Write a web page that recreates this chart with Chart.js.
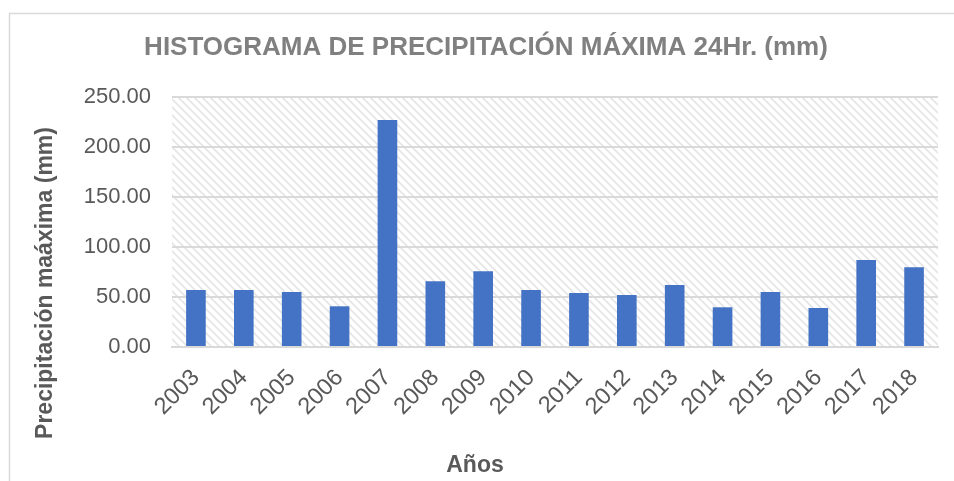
<!DOCTYPE html>
<html>
<head>
<meta charset="utf-8">
<script src="https://cdn.jsdelivr.net/npm/chart.js@4/dist/chart.umd.min.js"></script>
<style>
  html, body { margin: 0; padding: 0; background: #fff; }
  #wrap { width: 954px; height: 481px; position: relative; }
</style>
</head>
<body>
<div id="wrap"><canvas id="chart" width="954" height="481"></canvas></div>
<script>
const years = ["2003", "2004", "2005", "2006", "2007", "2008", "2009", "2010",
  "2011", "2012", "2013", "2014", "2015", "2016", "2017", "2018"];
const precipMax = [57, 57, 55, 40.7, 227, 65.7, 75.7, 57,
  54, 52, 62, 39.7, 55, 39, 87, 79.7];
const yTicks = [0, 50, 100, 150, 200, 250];

const chartTitle = "HISTOGRAMA DE PRECIPITACIÓN MÁXIMA 24Hr. (mm)";
const yTitle = "Precipitación maáxima (mm)";
const xTitle = "Años";

// diagonal hatch tile for the plot area
function makeHatch() {
  const tile = document.createElement("canvas");
  tile.width = 8;
  tile.height = 8;
  const tctx = tile.getContext("2d");
  const img = tctx.createImageData(8, 8);
  for (let y = 0; y < 8; y++) {
    for (let x = 0; x < 8; x++) {
      const d = ((x - y) % 8 + 8) % 8;
      const i = (y * 8 + x) * 4;
      let c = 255;
      if (d === 0 || d === 2) c = 236;
      else if (d === 1) c = 222;
      if (d <= 2 && (x + y) % 2 === 1) c += 8;
      img.data[i] = c; img.data[i + 1] = c; img.data[i + 2] = c; img.data[i + 3] = 255;
    }
  }
  tctx.putImageData(img, 0, 0);
  return tile;
}

const decorPlugin = {
  id: "decor",
  beforeDraw(chart) {
    const ctx = chart.ctx;
    const a = chart.chartArea;
    ctx.save();
    // outer frame (top and left edges are visible)
    ctx.strokeStyle = "#d9d9d9";
    ctx.lineWidth = 1.5;
    ctx.beginPath();
    ctx.moveTo(9.5, 490);
    ctx.lineTo(9.5, 13.5);
    ctx.lineTo(960, 13.5);
    ctx.stroke();
    ctx.fillStyle = ctx.createPattern(makeHatch(), "repeat");
    ctx.fillRect(a.left, a.top, a.right - a.left, a.bottom - a.top);
    ctx.restore();
  },
  afterDraw(chart) {
    const ctx = chart.ctx;
    ctx.save();
    ctx.textAlign = "center";
    ctx.textBaseline = "middle";
    ctx.fillStyle = "#808080";
    ctx.font = "bold 26px 'Liberation Sans', Arial, sans-serif";
    ctx.fillText(chartTitle, 486, 48);
    ctx.fillStyle = "#595959";
    ctx.font = "bold 23px 'Liberation Sans', Arial, sans-serif";
    ctx.fillText(xTitle, 475, 466);
    ctx.translate(46, 283);
    ctx.rotate(-Math.PI / 2);
    ctx.fillText(yTitle, 0, 0);
    ctx.restore();
  }
};

new Chart(document.getElementById("chart"), {
  type: "bar",
  data: {
    labels: years,
    datasets: [{
      label: "Precipitación máxima",
      data: precipMax,
      backgroundColor: "#4472C4",
      categoryPercentage: 1.0,
      barPercentage: 0.41
    }]
  },
  options: {
    responsive: false,
    animation: false,
    devicePixelRatio: 1,
    layout: { padding: { top: 97, right: 16, left: 0, bottom: 0 } },
    plugins: {
      legend: { display: false },
      tooltip: { enabled: false }
    },
    scales: {
      x: {
        grid: { display: false, drawTicks: false },
        border: { display: true, color: "#d9d9d9", width: 2 },
        ticks: {
          autoSkip: false,
          minRotation: 45,
          maxRotation: 45,
          padding: 17,
          color: "#595959",
          font: { family: "'Liberation Sans', Arial, sans-serif", size: 23.5 }
        },
        afterFit(scale) { scale.height = 134; }
      },
      y: {
        min: 0,
        max: 250,
        afterBuildTicks(scale) { scale.ticks = yTicks.map(v => ({ value: v })); },
        grid: { color: "#d9d9d9", lineWidth: 2, drawTicks: false },
        border: { display: false },
        ticks: {
          padding: 21,
          color: "#595959",
          font: { family: "'Liberation Sans', Arial, sans-serif", size: 22 },
          callback: v => Number(v).toFixed(2)
        },
        afterFit(scale) { scale.width = 172; }
      }
    }
  },
  plugins: [decorPlugin]
});
</script>
</body>
</html>
